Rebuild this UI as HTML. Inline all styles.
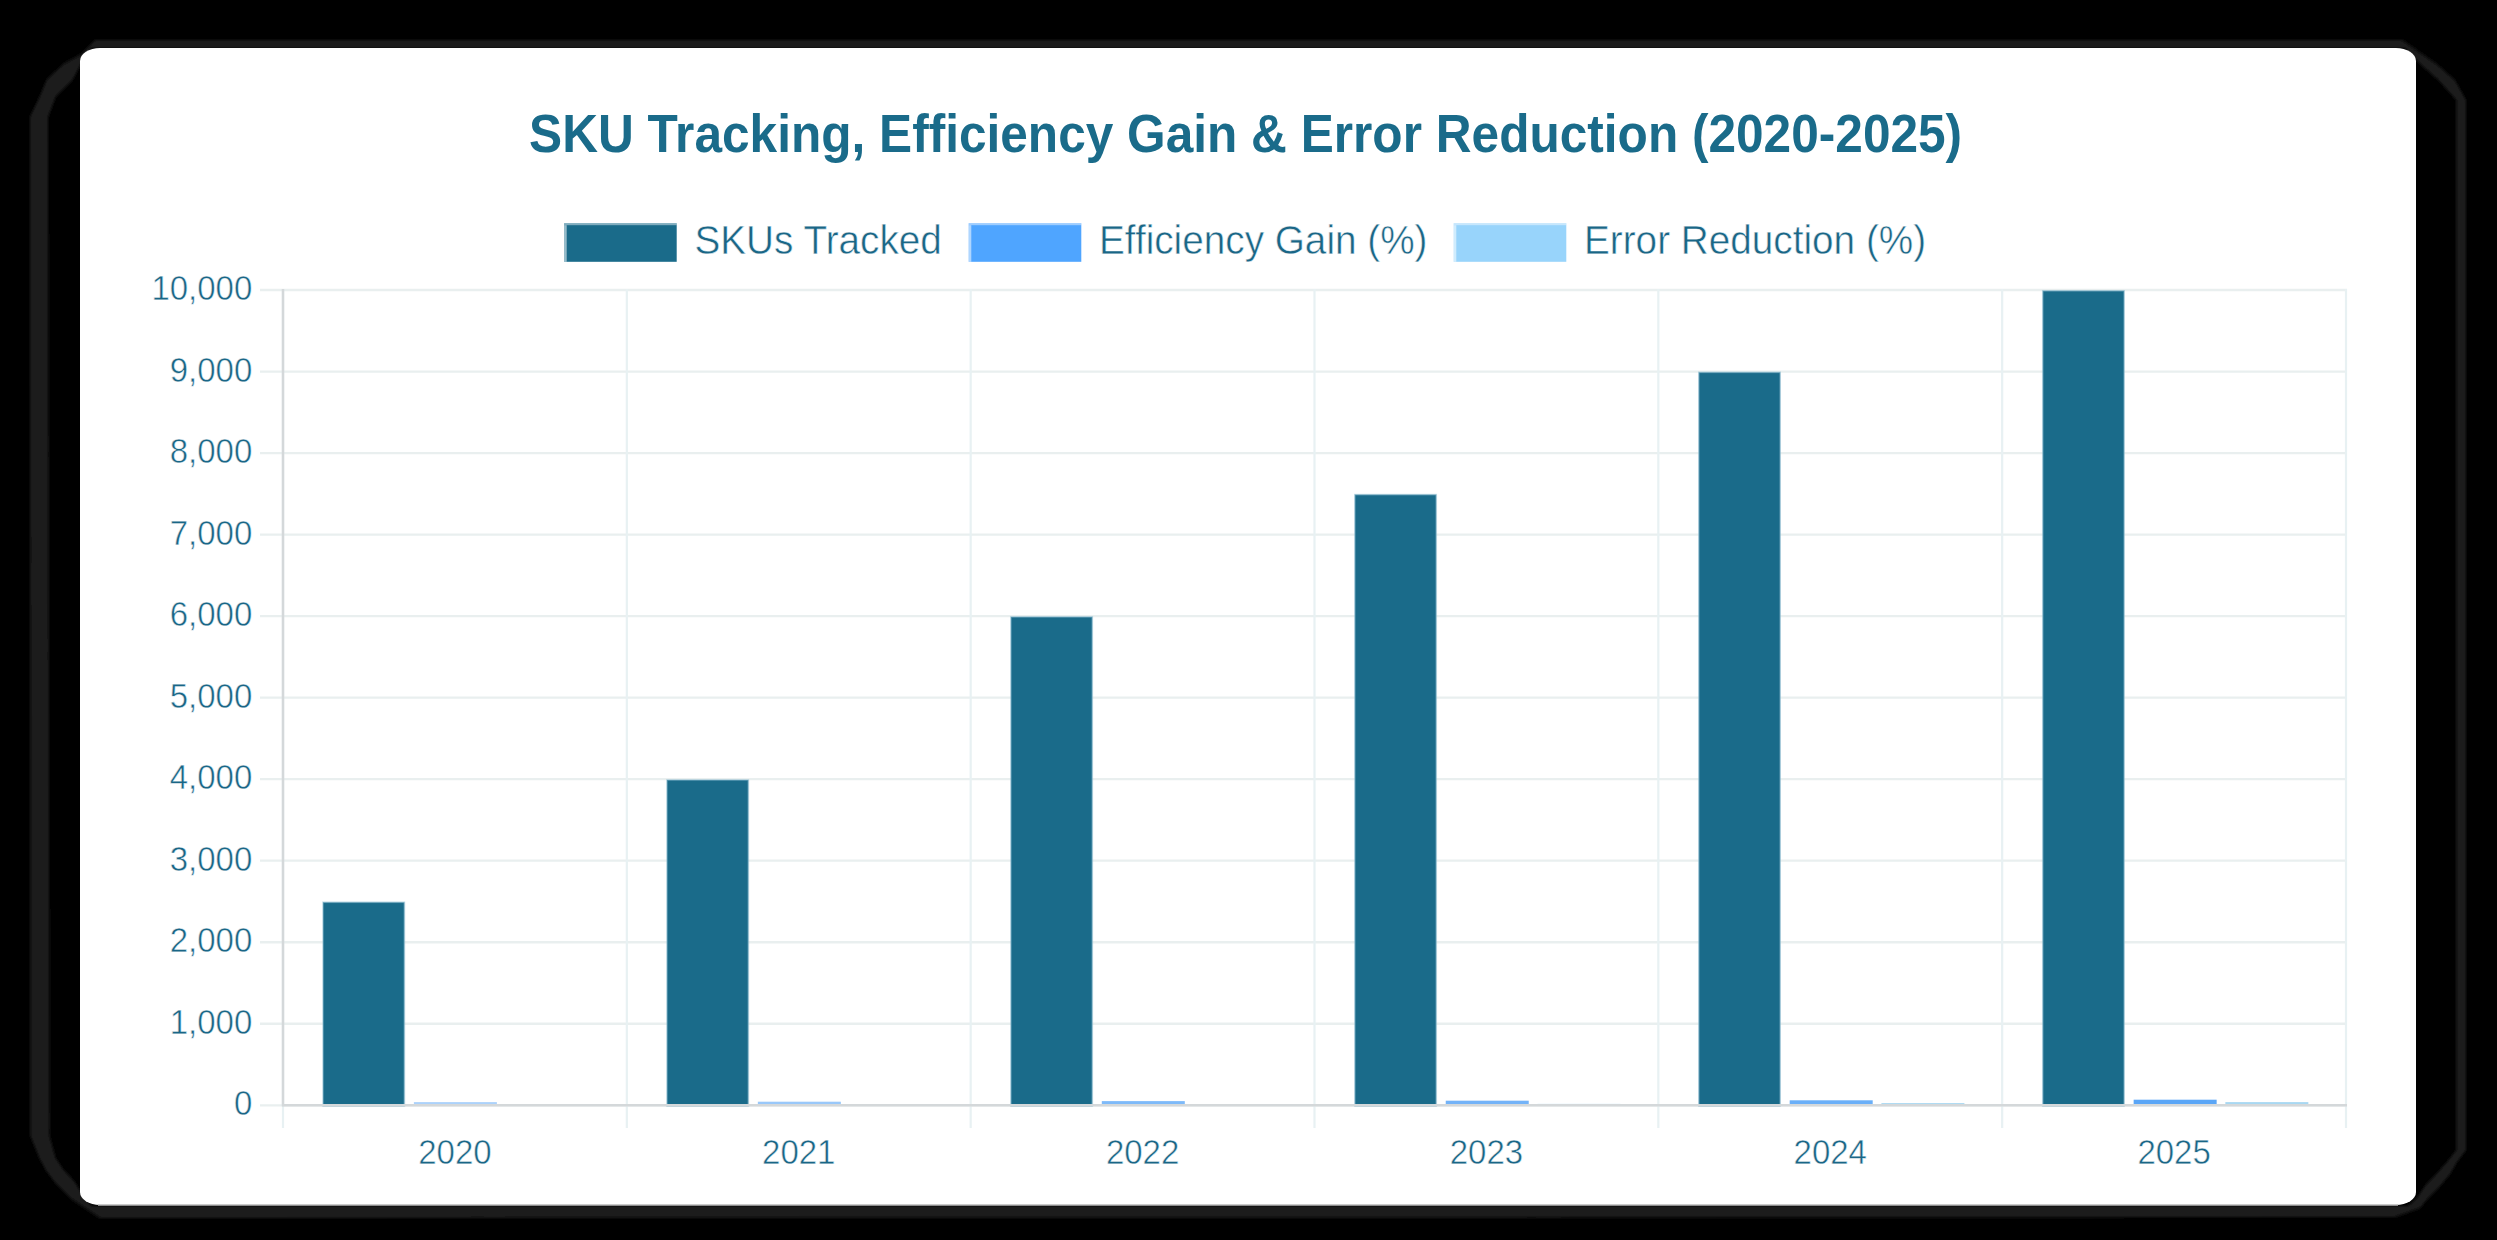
<!DOCTYPE html>
<html><head><meta charset="utf-8"><title>SKU Tracking Chart</title>
<style>
html,body{margin:0;padding:0;background:#000;width:2497px;height:1240px;overflow:hidden;}
text{font-family:"Liberation Sans",sans-serif;}
</style></head><body>
<svg width="2497" height="1240" viewBox="0 0 2497 1240" style="display:block"><defs><filter id="bl" x="-5%" y="-5%" width="110%" height="110%"><feGaussianBlur stdDeviation="1.6"/></filter></defs><rect width="2497" height="1240" fill="#000"/><g filter="url(#bl)"><path fill="#1e1e1e" fill-rule="evenodd" d="M30,117 L40,96 L46.6,80 L63.5,64 L80,55 L95,40 L2402,40 L2437,64.5 L2455,80.6 L2466,100 L2466,1150 L2457,1162 L2450,1174 L2440,1186 L2428,1198 L2420,1208 L2395,1217 L100,1218 L88,1210 L71.6,1199 L54.7,1182 L45.8,1170 L39.4,1158 L30.5,1136 Z M48,117 L56,96 L72.4,80 L82,62 L92,48 L2405,48 L2421,64.5 L2439,80.6 L2456.5,100 L2456.5,1150 L2447,1162 L2436.5,1174 L2425,1186 L2417,1198 L2408,1206 L92,1206 L84.5,1198.5 L74.8,1182 L63.5,1170 L55.5,1158 L49.5,1136 Z"/></g><rect x="80" y="48" width="2336" height="1157" rx="20" ry="13" fill="#fff"/><line x1="98" y1="1205" x2="2398" y2="1205" stroke="#b8b8b8" stroke-width="1.5"/><line x1="260" y1="290.00" x2="2347.0" y2="290.00" stroke="#e9efef" stroke-width="2.3"/><line x1="260" y1="371.53" x2="2347.0" y2="371.53" stroke="#e9efef" stroke-width="2.3"/><line x1="260" y1="453.06" x2="2347.0" y2="453.06" stroke="#e9efef" stroke-width="2.3"/><line x1="260" y1="534.59" x2="2347.0" y2="534.59" stroke="#e9efef" stroke-width="2.3"/><line x1="260" y1="616.12" x2="2347.0" y2="616.12" stroke="#e9efef" stroke-width="2.3"/><line x1="260" y1="697.65" x2="2347.0" y2="697.65" stroke="#e9efef" stroke-width="2.3"/><line x1="260" y1="779.18" x2="2347.0" y2="779.18" stroke="#e9efef" stroke-width="2.3"/><line x1="260" y1="860.71" x2="2347.0" y2="860.71" stroke="#e9efef" stroke-width="2.3"/><line x1="260" y1="942.24" x2="2347.0" y2="942.24" stroke="#e9efef" stroke-width="2.3"/><line x1="260" y1="1023.77" x2="2347.0" y2="1023.77" stroke="#e9efef" stroke-width="2.3"/><line x1="260" y1="1105.30" x2="2347.0" y2="1105.30" stroke="#e9efef" stroke-width="2.3"/><line x1="283.00" y1="289.0" x2="283.00" y2="1128" stroke="#e8f1f3" stroke-width="2.2"/><line x1="626.83" y1="289.0" x2="626.83" y2="1128" stroke="#e8f1f3" stroke-width="2.2"/><line x1="970.67" y1="289.0" x2="970.67" y2="1128" stroke="#e8f1f3" stroke-width="2.2"/><line x1="1314.50" y1="289.0" x2="1314.50" y2="1128" stroke="#e8f1f3" stroke-width="2.2"/><line x1="1658.33" y1="289.0" x2="1658.33" y2="1128" stroke="#e8f1f3" stroke-width="2.2"/><line x1="2002.17" y1="289.0" x2="2002.17" y2="1128" stroke="#e8f1f3" stroke-width="2.2"/><line x1="2346.00" y1="289.0" x2="2346.00" y2="1128" stroke="#e8f1f3" stroke-width="2.2"/><rect x="323.00" y="902.27" width="81.40" height="203.83" fill="#1a6b8a" stroke="#8cbcd0" stroke-width="1.6" stroke-opacity="0.55"/><rect x="413.90" y="1102.10" width="83.00" height="3.20" fill="#5aa6f7" fill-opacity="0.5"/><rect x="505.60" y="1104.70" width="83.00" height="0.60" fill="#a8d8f2"/><rect x="666.95" y="779.98" width="81.40" height="326.12" fill="#1a6b8a" stroke="#8cbcd0" stroke-width="1.6" stroke-opacity="0.55"/><rect x="757.85" y="1101.70" width="83.00" height="3.60" fill="#5aa6f7" fill-opacity="0.62"/><rect x="849.55" y="1104.50" width="83.00" height="0.80" fill="#a8d8f2"/><rect x="1010.90" y="616.92" width="81.40" height="489.18" fill="#1a6b8a" stroke="#8cbcd0" stroke-width="1.6" stroke-opacity="0.55"/><rect x="1101.80" y="1101.10" width="83.00" height="4.20" fill="#5aa6f7" fill-opacity="0.78"/><rect x="1193.50" y="1104.30" width="83.00" height="1.00" fill="#a8d8f2"/><rect x="1354.85" y="494.63" width="81.40" height="611.47" fill="#1a6b8a" stroke="#8cbcd0" stroke-width="1.6" stroke-opacity="0.55"/><rect x="1445.75" y="1100.70" width="83.00" height="4.60" fill="#5aa6f7" fill-opacity="0.85"/><rect x="1537.45" y="1103.90" width="83.00" height="1.40" fill="#a8d8f2"/><rect x="1698.80" y="372.33" width="81.40" height="733.77" fill="#1a6b8a" stroke="#8cbcd0" stroke-width="1.6" stroke-opacity="0.55"/><rect x="1789.70" y="1100.30" width="83.00" height="5.00" fill="#5aa6f7" fill-opacity="0.9"/><rect x="1881.40" y="1103.10" width="83.00" height="2.20" fill="#a8d8f2"/><rect x="2042.75" y="290.80" width="81.40" height="815.30" fill="#1a6b8a" stroke="#8cbcd0" stroke-width="1.6" stroke-opacity="0.55"/><rect x="2133.65" y="1099.70" width="83.00" height="5.60" fill="#5aa6f7" fill-opacity="1.0"/><rect x="2225.35" y="1102.10" width="83.00" height="3.20" fill="#a8d8f2"/><line x1="283.0" y1="289.0" x2="283.0" y2="1106.3" stroke="#d4d8da" stroke-width="2.5"/><line x1="282.0" y1="1105.3" x2="2347.0" y2="1105.3" stroke="#d4d8da" stroke-width="2.5"/><text transform="translate(252.3,300.00) scale(1,1.055)" font-family="Liberation Sans, sans-serif" font-size="33" fill="#1a6686" stroke="#fff" stroke-width="0.75" stroke-opacity="0.75" text-anchor="end">10,000</text><text transform="translate(252.3,381.53) scale(1,1.055)" font-family="Liberation Sans, sans-serif" font-size="33" fill="#1a6686" stroke="#fff" stroke-width="0.75" stroke-opacity="0.75" text-anchor="end">9,000</text><text transform="translate(252.3,463.06) scale(1,1.055)" font-family="Liberation Sans, sans-serif" font-size="33" fill="#1a6686" stroke="#fff" stroke-width="0.75" stroke-opacity="0.75" text-anchor="end">8,000</text><text transform="translate(252.3,544.59) scale(1,1.055)" font-family="Liberation Sans, sans-serif" font-size="33" fill="#1a6686" stroke="#fff" stroke-width="0.75" stroke-opacity="0.75" text-anchor="end">7,000</text><text transform="translate(252.3,626.12) scale(1,1.055)" font-family="Liberation Sans, sans-serif" font-size="33" fill="#1a6686" stroke="#fff" stroke-width="0.75" stroke-opacity="0.75" text-anchor="end">6,000</text><text transform="translate(252.3,707.65) scale(1,1.055)" font-family="Liberation Sans, sans-serif" font-size="33" fill="#1a6686" stroke="#fff" stroke-width="0.75" stroke-opacity="0.75" text-anchor="end">5,000</text><text transform="translate(252.3,789.18) scale(1,1.055)" font-family="Liberation Sans, sans-serif" font-size="33" fill="#1a6686" stroke="#fff" stroke-width="0.75" stroke-opacity="0.75" text-anchor="end">4,000</text><text transform="translate(252.3,870.71) scale(1,1.055)" font-family="Liberation Sans, sans-serif" font-size="33" fill="#1a6686" stroke="#fff" stroke-width="0.75" stroke-opacity="0.75" text-anchor="end">3,000</text><text transform="translate(252.3,952.24) scale(1,1.055)" font-family="Liberation Sans, sans-serif" font-size="33" fill="#1a6686" stroke="#fff" stroke-width="0.75" stroke-opacity="0.75" text-anchor="end">2,000</text><text transform="translate(252.3,1033.77) scale(1,1.055)" font-family="Liberation Sans, sans-serif" font-size="33" fill="#1a6686" stroke="#fff" stroke-width="0.75" stroke-opacity="0.75" text-anchor="end">1,000</text><text transform="translate(252.3,1115.30) scale(1,1.055)" font-family="Liberation Sans, sans-serif" font-size="33" fill="#1a6686" stroke="#fff" stroke-width="0.75" stroke-opacity="0.75" text-anchor="end">0</text><text transform="translate(454.92,1163.6) scale(1,1.055)" font-family="Liberation Sans, sans-serif" font-size="33" fill="#1a6686" stroke="#fff" stroke-width="0.75" stroke-opacity="0.75" text-anchor="middle">2020</text><text transform="translate(798.75,1163.6) scale(1,1.055)" font-family="Liberation Sans, sans-serif" font-size="33" fill="#1a6686" stroke="#fff" stroke-width="0.75" stroke-opacity="0.75" text-anchor="middle">2021</text><text transform="translate(1142.58,1163.6) scale(1,1.055)" font-family="Liberation Sans, sans-serif" font-size="33" fill="#1a6686" stroke="#fff" stroke-width="0.75" stroke-opacity="0.75" text-anchor="middle">2022</text><text transform="translate(1486.42,1163.6) scale(1,1.055)" font-family="Liberation Sans, sans-serif" font-size="33" fill="#1a6686" stroke="#fff" stroke-width="0.75" stroke-opacity="0.75" text-anchor="middle">2023</text><text transform="translate(1830.25,1163.6) scale(1,1.055)" font-family="Liberation Sans, sans-serif" font-size="33" fill="#1a6686" stroke="#fff" stroke-width="0.75" stroke-opacity="0.75" text-anchor="middle">2024</text><text transform="translate(2174.08,1163.6) scale(1,1.055)" font-family="Liberation Sans, sans-serif" font-size="33" fill="#1a6686" stroke="#fff" stroke-width="0.75" stroke-opacity="0.75" text-anchor="middle">2025</text><text transform="translate(1245.6,151.9) scale(1.002,1.068)" font-family="Liberation Sans, sans-serif" font-size="49.5" font-weight="bold" fill="#1a6b8a" text-anchor="middle">SKU Tracking, Efficiency Gain &amp; Error Reduction (2020-2025)</text><rect x="564.1" y="223.2" width="112.6" height="38.6" fill="#1a6b8a"/><rect x="564.1" y="223.2" width="112.6" height="2" fill="#fff" fill-opacity="0.45"/><rect x="564.1" y="225.2" width="2.6" height="36.6" fill="#fff" fill-opacity="0.55"/><text transform="translate(694.40,253.6) scale(1.006,1.055)" font-family="Liberation Sans, sans-serif" font-size="38.5" fill="#1a6686" stroke="#fff" stroke-width="0.75" stroke-opacity="0.75">SKUs Tracked</text><rect x="968.7" y="223.2" width="112.6" height="38.6" fill="#4fa5ff"/><rect x="968.7" y="223.2" width="112.6" height="2" fill="#fff" fill-opacity="0.45"/><rect x="968.7" y="225.2" width="2.6" height="36.6" fill="#fff" fill-opacity="0.55"/><text transform="translate(1099.00,253.6) scale(1.006,1.055)" font-family="Liberation Sans, sans-serif" font-size="38.5" fill="#1a6686" stroke="#fff" stroke-width="0.75" stroke-opacity="0.75">Efficiency Gain (%)</text><rect x="1453.7" y="223.2" width="112.6" height="38.6" fill="#98d4fb"/><rect x="1453.7" y="223.2" width="112.6" height="2" fill="#fff" fill-opacity="0.45"/><rect x="1453.7" y="225.2" width="2.6" height="36.6" fill="#fff" fill-opacity="0.55"/><text transform="translate(1584.00,253.6) scale(1.006,1.055)" font-family="Liberation Sans, sans-serif" font-size="38.5" fill="#1a6686" stroke="#fff" stroke-width="0.75" stroke-opacity="0.75">Error Reduction (%)</text></svg>
</body></html>
